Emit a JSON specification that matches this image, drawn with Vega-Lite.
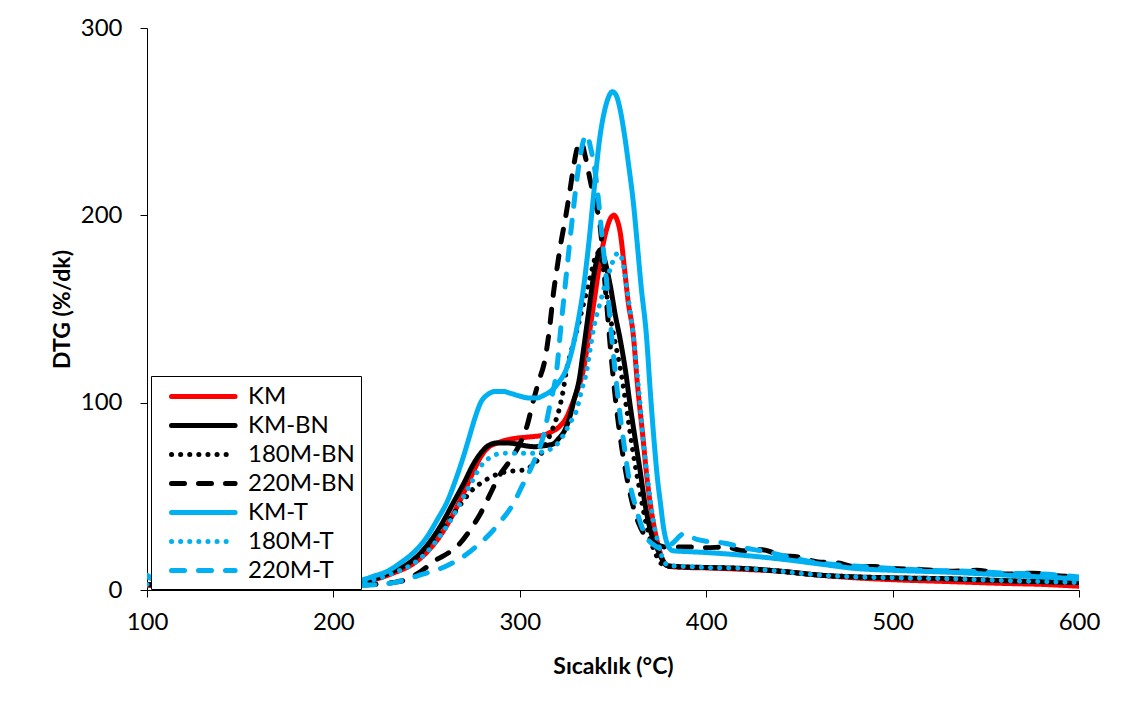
{
  "$schema": "https://vega.github.io/schema/vega-lite/v6.json",
  "autosize": {"type": "none"},
  "padding": {"left": 147, "top": 28, "right": 47, "bottom": 127},
  "width": 932,
  "height": 562,
  "background": "white",
  "config": {
    "font": "Lato",
    "view": {"stroke": null},
    "axis": {"grid": false, "domainColor": "#000000", "tickColor": "#000000", "labelColor": "#000000", "titleColor": "#000000", "labelFont": "Lato", "titleFont": "Lato", "labelFontSize": 24, "titleFontSize": 23, "titleFontWeight": "bold", "tickSize": 7, "domainWidth": 1, "tickWidth": 1, "labelFlush": false}
  },
  "datasets": {
    "d": [
      {"s":"KM","t":100,"v":2.5},{"s":"KM","t":115,"v":2},{"s":"KM","t":140,"v":1.8},{"s":"KM","t":170,"v":1.8},{"s":"KM","t":200,"v":2},{"s":"KM","t":212,"v":3},{"s":"KM","t":222,"v":5.5},{"s":"KM","t":232,"v":9},{"s":"KM","t":242,"v":13.5},{"s":"KM","t":250,"v":20},{"s":"KM","t":257,"v":28.5},{"s":"KM","t":264,"v":40},{"s":"KM","t":270,"v":52},{"s":"KM","t":275,"v":63},{"s":"KM","t":279,"v":71},{"s":"KM","t":283,"v":76},{"s":"KM","t":288,"v":78.5},{"s":"KM","t":293,"v":80},{"s":"KM","t":298,"v":81},{"s":"KM","t":303,"v":81.5},{"s":"KM","t":308,"v":82},{"s":"KM","t":312,"v":82.5},{"s":"KM","t":316,"v":84},{"s":"KM","t":321,"v":87},{"s":"KM","t":325,"v":92},{"s":"KM","t":328,"v":99},{"s":"KM","t":331,"v":107},{"s":"KM","t":334,"v":117},{"s":"KM","t":337,"v":135},{"s":"KM","t":340,"v":155},{"s":"KM","t":343,"v":175},{"s":"KM","t":345,"v":186},{"s":"KM","t":347,"v":194},{"s":"KM","t":349,"v":199},{"s":"KM","t":350.5,"v":200},{"s":"KM","t":352,"v":198},{"s":"KM","t":354,"v":190},{"s":"KM","t":356,"v":173},{"s":"KM","t":358,"v":155},{"s":"KM","t":361,"v":135},{"s":"KM","t":363,"v":111},{"s":"KM","t":366,"v":82},{"s":"KM","t":368,"v":62},{"s":"KM","t":370,"v":46},{"s":"KM","t":372,"v":34},{"s":"KM","t":375,"v":21},{"s":"KM","t":378,"v":14},{"s":"KM","t":381,"v":12.5},{"s":"KM","t":390,"v":12},{"s":"KM","t":400,"v":11.8},{"s":"KM","t":420,"v":11},{"s":"KM","t":440,"v":10},{"s":"KM","t":460,"v":8},{"s":"KM","t":480,"v":6.5},{"s":"KM","t":500,"v":5.5},{"s":"KM","t":530,"v":4.5},{"s":"KM","t":560,"v":3.5},{"s":"KM","t":580,"v":3},{"s":"KM","t":600,"v":2},
      {"s":"KM-BN","t":100,"v":3},{"s":"KM-BN","t":120,"v":2.5},{"s":"KM-BN","t":160,"v":2.5},{"s":"KM-BN","t":200,"v":2.5},{"s":"KM-BN","t":212,"v":3.5},{"s":"KM-BN","t":222,"v":6},{"s":"KM-BN","t":232,"v":10},{"s":"KM-BN","t":240,"v":14},{"s":"KM-BN","t":246,"v":19},{"s":"KM-BN","t":252,"v":26},{"s":"KM-BN","t":258,"v":35},{"s":"KM-BN","t":264,"v":46},{"s":"KM-BN","t":270,"v":57},{"s":"KM-BN","t":275,"v":67},{"s":"KM-BN","t":279,"v":73},{"s":"KM-BN","t":283,"v":77},{"s":"KM-BN","t":288,"v":78.5},{"s":"KM-BN","t":293,"v":78.5},{"s":"KM-BN","t":298,"v":78},{"s":"KM-BN","t":303,"v":77},{"s":"KM-BN","t":308,"v":76.5},{"s":"KM-BN","t":313,"v":77},{"s":"KM-BN","t":318,"v":78},{"s":"KM-BN","t":321,"v":81},{"s":"KM-BN","t":324,"v":85},{"s":"KM-BN","t":327,"v":93},{"s":"KM-BN","t":329,"v":101},{"s":"KM-BN","t":332,"v":113},{"s":"KM-BN","t":334,"v":127},{"s":"KM-BN","t":337,"v":149},{"s":"KM-BN","t":339.5,"v":167},{"s":"KM-BN","t":341.5,"v":177},{"s":"KM-BN","t":343,"v":181.5},{"s":"KM-BN","t":345,"v":178},{"s":"KM-BN","t":347,"v":170},{"s":"KM-BN","t":349,"v":160},{"s":"KM-BN","t":351,"v":148},{"s":"KM-BN","t":354,"v":133},{"s":"KM-BN","t":357,"v":115},{"s":"KM-BN","t":359,"v":100},{"s":"KM-BN","t":362,"v":80},{"s":"KM-BN","t":364.5,"v":64},{"s":"KM-BN","t":367,"v":47},{"s":"KM-BN","t":370,"v":32},{"s":"KM-BN","t":373,"v":24},{"s":"KM-BN","t":376,"v":17},{"s":"KM-BN","t":379,"v":13},{"s":"KM-BN","t":385,"v":12.5},{"s":"KM-BN","t":400,"v":12},{"s":"KM-BN","t":420,"v":11.5},{"s":"KM-BN","t":440,"v":10},{"s":"KM-BN","t":460,"v":8},{"s":"KM-BN","t":480,"v":7},{"s":"KM-BN","t":500,"v":6.5},{"s":"KM-BN","t":530,"v":6},{"s":"KM-BN","t":560,"v":5},{"s":"KM-BN","t":600,"v":4},
      {"s":"180M-BN","t":100,"v":3},{"s":"180M-BN","t":120,"v":2.5},{"s":"180M-BN","t":160,"v":2.5},{"s":"180M-BN","t":200,"v":2.5},{"s":"180M-BN","t":212,"v":3},{"s":"180M-BN","t":222,"v":5.5},{"s":"180M-BN","t":232,"v":9.5},{"s":"180M-BN","t":240,"v":13.5},{"s":"180M-BN","t":246,"v":18},{"s":"180M-BN","t":252,"v":25},{"s":"180M-BN","t":258,"v":32},{"s":"180M-BN","t":264,"v":40},{"s":"180M-BN","t":270,"v":48},{"s":"180M-BN","t":274,"v":53},{"s":"180M-BN","t":279,"v":57},{"s":"180M-BN","t":284,"v":60},{"s":"180M-BN","t":290,"v":62.5},{"s":"180M-BN","t":296,"v":63.5},{"s":"180M-BN","t":302,"v":64},{"s":"180M-BN","t":306,"v":66},{"s":"180M-BN","t":310,"v":70},{"s":"180M-BN","t":314,"v":78},{"s":"180M-BN","t":318,"v":87},{"s":"180M-BN","t":321,"v":96},{"s":"180M-BN","t":323,"v":105},{"s":"180M-BN","t":325,"v":117},{"s":"180M-BN","t":328,"v":129},{"s":"180M-BN","t":331,"v":140},{"s":"180M-BN","t":333,"v":148},{"s":"180M-BN","t":336,"v":160},{"s":"180M-BN","t":339,"v":172},{"s":"180M-BN","t":341.5,"v":180},{"s":"180M-BN","t":343,"v":179},{"s":"180M-BN","t":345,"v":170},{"s":"180M-BN","t":347,"v":155},{"s":"180M-BN","t":349,"v":143},{"s":"180M-BN","t":352,"v":128},{"s":"180M-BN","t":355,"v":112},{"s":"180M-BN","t":358,"v":92},{"s":"180M-BN","t":361,"v":72},{"s":"180M-BN","t":364,"v":55},{"s":"180M-BN","t":367,"v":39},{"s":"180M-BN","t":370,"v":27},{"s":"180M-BN","t":373,"v":19},{"s":"180M-BN","t":376,"v":14},{"s":"180M-BN","t":380,"v":12.5},{"s":"180M-BN","t":400,"v":12},{"s":"180M-BN","t":420,"v":11.5},{"s":"180M-BN","t":440,"v":10},{"s":"180M-BN","t":460,"v":8},{"s":"180M-BN","t":480,"v":7},{"s":"180M-BN","t":500,"v":6.5},{"s":"180M-BN","t":530,"v":6},{"s":"180M-BN","t":560,"v":5},{"s":"180M-BN","t":600,"v":4},
      {"s":"220M-BN","t":100,"v":3},{"s":"220M-BN","t":130,"v":2.5},{"s":"220M-BN","t":170,"v":2.5},{"s":"220M-BN","t":210,"v":2.5},{"s":"220M-BN","t":222,"v":3},{"s":"220M-BN","t":232,"v":4},{"s":"220M-BN","t":239,"v":5.5},{"s":"220M-BN","t":247,"v":10},{"s":"220M-BN","t":255,"v":16},{"s":"220M-BN","t":262,"v":20},{"s":"220M-BN","t":268,"v":25},{"s":"220M-BN","t":274,"v":33},{"s":"220M-BN","t":279,"v":41},{"s":"220M-BN","t":284,"v":51},{"s":"220M-BN","t":289,"v":61},{"s":"220M-BN","t":294,"v":68},{"s":"220M-BN","t":300,"v":78},{"s":"220M-BN","t":304,"v":88},{"s":"220M-BN","t":307,"v":100},{"s":"220M-BN","t":310,"v":111},{"s":"220M-BN","t":313.5,"v":123},{"s":"220M-BN","t":316,"v":140},{"s":"220M-BN","t":318,"v":158},{"s":"220M-BN","t":320,"v":172},{"s":"220M-BN","t":322,"v":185},{"s":"220M-BN","t":324.3,"v":197.5},{"s":"220M-BN","t":327,"v":214},{"s":"220M-BN","t":329,"v":227},{"s":"220M-BN","t":331.4,"v":237.5},{"s":"220M-BN","t":333,"v":239},{"s":"220M-BN","t":335,"v":232},{"s":"220M-BN","t":337.7,"v":219},{"s":"220M-BN","t":340,"v":208},{"s":"220M-BN","t":343,"v":195},{"s":"220M-BN","t":346,"v":160},{"s":"220M-BN","t":349,"v":125},{"s":"220M-BN","t":352,"v":96},{"s":"220M-BN","t":355,"v":74},{"s":"220M-BN","t":358,"v":57},{"s":"220M-BN","t":361,"v":44},{"s":"220M-BN","t":364,"v":35},{"s":"220M-BN","t":368,"v":28},{"s":"220M-BN","t":372,"v":25},{"s":"220M-BN","t":378,"v":23},{"s":"220M-BN","t":390,"v":23},{"s":"220M-BN","t":400,"v":22.5},{"s":"220M-BN","t":410,"v":23},{"s":"220M-BN","t":420,"v":21},{"s":"220M-BN","t":430,"v":21.5},{"s":"220M-BN","t":440,"v":18.5},{"s":"220M-BN","t":450,"v":17.5},{"s":"220M-BN","t":460,"v":15},{"s":"220M-BN","t":470,"v":14.5},{"s":"220M-BN","t":480,"v":12.5},{"s":"220M-BN","t":490,"v":12.5},{"s":"220M-BN","t":500,"v":11.5},{"s":"220M-BN","t":515,"v":11},{"s":"220M-BN","t":530,"v":10},{"s":"220M-BN","t":545,"v":10.5},{"s":"220M-BN","t":560,"v":8.5},{"s":"220M-BN","t":575,"v":9},{"s":"220M-BN","t":590,"v":7.5},{"s":"220M-BN","t":600,"v":7},
      {"s":"KM-T","t":100,"v":8},{"s":"KM-T","t":105,"v":5},{"s":"KM-T","t":112,"v":3.5},{"s":"KM-T","t":130,"v":3},{"s":"KM-T","t":160,"v":3},{"s":"KM-T","t":190,"v":3},{"s":"KM-T","t":205,"v":3.5},{"s":"KM-T","t":214,"v":5},{"s":"KM-T","t":222,"v":7.5},{"s":"KM-T","t":229,"v":10},{"s":"KM-T","t":236,"v":14.5},{"s":"KM-T","t":243,"v":20},{"s":"KM-T","t":250,"v":28},{"s":"KM-T","t":256,"v":38},{"s":"KM-T","t":261,"v":47},{"s":"KM-T","t":266,"v":60},{"s":"KM-T","t":270,"v":72},{"s":"KM-T","t":273,"v":82},{"s":"KM-T","t":276,"v":92},{"s":"KM-T","t":279,"v":100},{"s":"KM-T","t":283,"v":104.5},{"s":"KM-T","t":287,"v":106},{"s":"KM-T","t":291,"v":106},{"s":"KM-T","t":295,"v":105},{"s":"KM-T","t":300,"v":103.5},{"s":"KM-T","t":305,"v":102.5},{"s":"KM-T","t":309,"v":102.5},{"s":"KM-T","t":313,"v":104},{"s":"KM-T","t":317,"v":106.5},{"s":"KM-T","t":321,"v":111},{"s":"KM-T","t":325,"v":118},{"s":"KM-T","t":328,"v":128},{"s":"KM-T","t":331,"v":142},{"s":"KM-T","t":334,"v":160},{"s":"KM-T","t":337,"v":185},{"s":"KM-T","t":340,"v":215},{"s":"KM-T","t":343,"v":242},{"s":"KM-T","t":346,"v":258},{"s":"KM-T","t":348,"v":264},{"s":"KM-T","t":349.6,"v":266},{"s":"KM-T","t":351.5,"v":264.5},{"s":"KM-T","t":353.5,"v":258},{"s":"KM-T","t":356,"v":244},{"s":"KM-T","t":358.5,"v":226},{"s":"KM-T","t":361,"v":206},{"s":"KM-T","t":363,"v":185},{"s":"KM-T","t":365,"v":163},{"s":"KM-T","t":368,"v":135},{"s":"KM-T","t":370,"v":106},{"s":"KM-T","t":372,"v":80},{"s":"KM-T","t":374,"v":58},{"s":"KM-T","t":375.5,"v":46},{"s":"KM-T","t":377,"v":34},{"s":"KM-T","t":379,"v":25},{"s":"KM-T","t":382,"v":21},{"s":"KM-T","t":390,"v":20.5},{"s":"KM-T","t":400,"v":20},{"s":"KM-T","t":420,"v":18.5},{"s":"KM-T","t":440,"v":16.5},{"s":"KM-T","t":460,"v":14},{"s":"KM-T","t":480,"v":11.5},{"s":"KM-T","t":500,"v":10.5},{"s":"KM-T","t":530,"v":9.5},{"s":"KM-T","t":560,"v":8},{"s":"KM-T","t":580,"v":7},{"s":"KM-T","t":600,"v":6},
      {"s":"180M-T","t":100,"v":3},{"s":"180M-T","t":120,"v":2.5},{"s":"180M-T","t":160,"v":2.5},{"s":"180M-T","t":200,"v":2.5},{"s":"180M-T","t":212,"v":3},{"s":"180M-T","t":222,"v":5.5},{"s":"180M-T","t":232,"v":9},{"s":"180M-T","t":242,"v":13.5},{"s":"180M-T","t":250,"v":20},{"s":"180M-T","t":257,"v":28.5},{"s":"180M-T","t":264,"v":39},{"s":"180M-T","t":270,"v":50},{"s":"180M-T","t":275,"v":59},{"s":"180M-T","t":279,"v":66},{"s":"180M-T","t":283,"v":70},{"s":"180M-T","t":288,"v":72.5},{"s":"180M-T","t":293,"v":73},{"s":"180M-T","t":298,"v":73},{"s":"180M-T","t":303,"v":73},{"s":"180M-T","t":308,"v":73},{"s":"180M-T","t":313,"v":74},{"s":"180M-T","t":317,"v":75.5},{"s":"180M-T","t":321,"v":79},{"s":"180M-T","t":325,"v":85.5},{"s":"180M-T","t":328,"v":91},{"s":"180M-T","t":330.5,"v":96},{"s":"180M-T","t":333,"v":106},{"s":"180M-T","t":336,"v":117.5},{"s":"180M-T","t":338,"v":130},{"s":"180M-T","t":339.5,"v":139},{"s":"180M-T","t":343,"v":153},{"s":"180M-T","t":346,"v":164},{"s":"180M-T","t":348.4,"v":171},{"s":"180M-T","t":351,"v":178},{"s":"180M-T","t":353,"v":180},{"s":"180M-T","t":355,"v":176},{"s":"180M-T","t":357.3,"v":162},{"s":"180M-T","t":359,"v":150},{"s":"180M-T","t":361,"v":135},{"s":"180M-T","t":363,"v":115},{"s":"180M-T","t":364.5,"v":100},{"s":"180M-T","t":366,"v":82},{"s":"180M-T","t":368,"v":64},{"s":"180M-T","t":370,"v":48},{"s":"180M-T","t":371.6,"v":37},{"s":"180M-T","t":374,"v":26},{"s":"180M-T","t":377,"v":16},{"s":"180M-T","t":380,"v":13},{"s":"180M-T","t":390,"v":12.5},{"s":"180M-T","t":400,"v":12},{"s":"180M-T","t":420,"v":11.5},{"s":"180M-T","t":440,"v":10},{"s":"180M-T","t":460,"v":8},{"s":"180M-T","t":480,"v":7},{"s":"180M-T","t":500,"v":6.5},{"s":"180M-T","t":530,"v":6},{"s":"180M-T","t":560,"v":5},{"s":"180M-T","t":600,"v":4},
      {"s":"220M-T","t":100,"v":7},{"s":"220M-T","t":105,"v":5},{"s":"220M-T","t":115,"v":3},{"s":"220M-T","t":140,"v":2.5},{"s":"220M-T","t":180,"v":2.5},{"s":"220M-T","t":210,"v":2.5},{"s":"220M-T","t":225,"v":3},{"s":"220M-T","t":235,"v":4.5},{"s":"220M-T","t":241,"v":6.2},{"s":"220M-T","t":248,"v":8.5},{"s":"220M-T","t":255.4,"v":10.7},{"s":"220M-T","t":262,"v":13.5},{"s":"220M-T","t":269.7,"v":17.8},{"s":"220M-T","t":277,"v":23.5},{"s":"220M-T","t":284,"v":30},{"s":"220M-T","t":290,"v":37},{"s":"220M-T","t":296.5,"v":46},{"s":"220M-T","t":301,"v":55},{"s":"220M-T","t":305.5,"v":64},{"s":"220M-T","t":309,"v":72},{"s":"220M-T","t":312.6,"v":82},{"s":"220M-T","t":316,"v":98},{"s":"220M-T","t":319.8,"v":117.5},{"s":"220M-T","t":322,"v":140},{"s":"220M-T","t":324.3,"v":162},{"s":"220M-T","t":326.5,"v":183},{"s":"220M-T","t":328.7,"v":203},{"s":"220M-T","t":331,"v":222},{"s":"220M-T","t":333,"v":235},{"s":"220M-T","t":335.9,"v":243},{"s":"220M-T","t":338,"v":236},{"s":"220M-T","t":341,"v":219},{"s":"220M-T","t":344,"v":190},{"s":"220M-T","t":347,"v":160},{"s":"220M-T","t":350,"v":128},{"s":"220M-T","t":353,"v":100},{"s":"220M-T","t":356,"v":77},{"s":"220M-T","t":359,"v":57},{"s":"220M-T","t":362,"v":45},{"s":"220M-T","t":365,"v":35},{"s":"220M-T","t":368,"v":28},{"s":"220M-T","t":372,"v":24},{"s":"220M-T","t":376,"v":22},{"s":"220M-T","t":382,"v":25},{"s":"220M-T","t":388,"v":30},{"s":"220M-T","t":395,"v":27},{"s":"220M-T","t":400,"v":26},{"s":"220M-T","t":410,"v":25},{"s":"220M-T","t":420,"v":22.5},{"s":"220M-T","t":432,"v":20.5},{"s":"220M-T","t":445,"v":17.5},{"s":"220M-T","t":457,"v":15},{"s":"220M-T","t":470,"v":13.5},{"s":"220M-T","t":486,"v":12.4},{"s":"220M-T","t":500,"v":11.5},{"s":"220M-T","t":520,"v":10.5},{"s":"220M-T","t":540,"v":10},{"s":"220M-T","t":560,"v":9},{"s":"220M-T","t":580,"v":8.5},{"s":"220M-T","t":600,"v":7}
    ]
  },
  "data": {"name": "d"},
  "mark": {"type": "line", "strokeWidth": 5, "strokeCap": "round", "interpolate": "monotone", "clip": true},
  "encoding": {
    "x": {"field": "t", "type": "quantitative", "title": "Sıcaklık (°C)", "scale": {"domain": [100, 600], "nice": false, "zero": false}, "axis": {"values": [100, 200, 300, 400, 500, 600], "labelPadding": 13, "titlePadding": 21}},
    "y": {"field": "v", "type": "quantitative", "title": "DTG (%/dk)", "scale": {"domain": [0, 300], "nice": false}, "axis": {"values": [0, 100, 200, 300], "labelPadding": 18, "titlePadding": 6}},
    "color": {"field": "s", "type": "nominal", "title": null, "sort": ["KM", "KM-BN", "180M-BN", "220M-BN", "KM-T", "180M-T", "220M-T"], "scale": {"domain": ["KM", "KM-BN", "180M-BN", "220M-BN", "KM-T", "180M-T", "220M-T"], "range": ["#FF0000", "#000000", "#000000", "#000000", "#00B0F0", "#00B0F0", "#00B0F0"]},
      "legend": {"orient": "none", "legendX": 4, "legendY": 348, "fillColor": "white", "strokeColor": "#000000", "padding": 6, "symbolType": "M0,0H5.3", "symbolSize": 576, "symbolStrokeWidth": 5, "labelFont": "Lato", "labelFontSize": 24, "labelColor": "#000000", "labelOffset": 62, "rowPadding": 2, "labelLimit": 300,
        "encoding": {"symbols": {"strokeCap": {"value": "round"}}}}},
    "strokeDash": {"field": "s", "type": "nominal", "title": null, "sort": ["KM", "KM-BN", "180M-BN", "220M-BN", "KM-T", "180M-T", "220M-T"], "scale": {"domain": ["KM", "KM-BN", "180M-BN", "220M-BN", "KM-T", "180M-T", "220M-T"], "range": [[1, 0], [1, 0], [0.1, 9], [13, 14], [1, 0], [0.1, 9], [13, 14]]}}
  }
}
